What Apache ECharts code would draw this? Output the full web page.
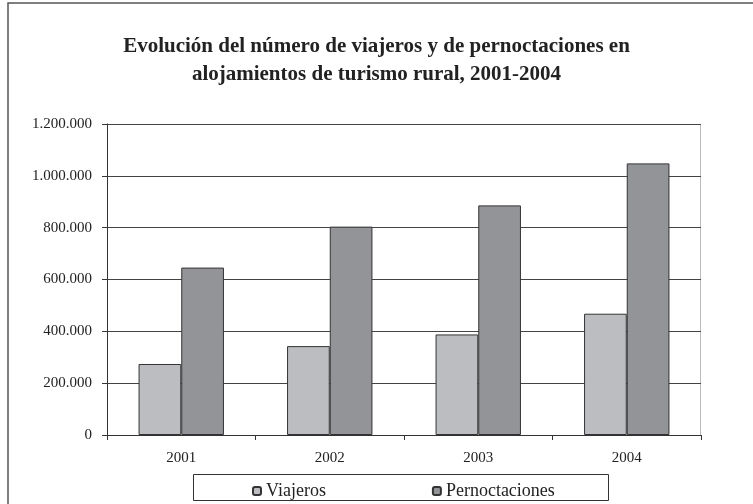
<!DOCTYPE html>
<html>
<head>
<meta charset="utf-8">
<script src="https://cdn.jsdelivr.net/npm/echarts@6/dist/echarts.min.js"></script>
<style>
  html, body { margin: 0; padding: 0; background: #fff; }
  #main { width: 753px; height: 504px; }
</style>
</head>
<body>
<div id="main"></div>
<script>
// 年份
var years = ['2001', '2002', '2003', '2004'];
// 系列名称
var seriesNames = ['Viajeros', 'Pernoctaciones'];
// 旅客数量
var viajeros = [274000, 343000, 388000, 468000];
// 过夜数量
var pernoctaciones = [646000, 804000, 886000, 1048000];

var serif = '"Liberation Serif", "DejaVu Serif", serif';

/**
 * 千位分隔(西班牙格式)
 */
function fmt(v) {
    return String(v).replace(/\B(?=(\d{3})+(?!\d))/g, '.');
}

var myChart = echarts.init(document.getElementById('main'));

var option = {
    backgroundColor: '#fff',
    animation: false,
    title: {
        text: 'Evolución del número de viajeros y de pernoctaciones en\nalojamientos de turismo rural, 2001-2004',
        left: 'center',
        top: 28,
        textStyle: {
            fontFamily: serif,
            fontWeight: 'bold',
            fontSize: 21,
            lineHeight: 28,
            color: '#222'
        }
    },
    graphic: [
        // 外框
        {
            type: 'rect',
            shape: { x: 8, y: 3, width: 760, height: 520 },
            style: { fill: 'none', stroke: '#555', lineWidth: 1.5 },
            silent: true
        },
        // 图例框
        {
            type: 'rect',
            shape: { x: 193.5, y: 474.5, width: 415, height: 26 },
            style: { fill: 'none', stroke: '#333', lineWidth: 1 },
            silent: true
        },
        // 绘图区右边框
        {
            type: 'line',
            shape: { x1: 700.5, y1: 124, x2: 700.5, y2: 435 },
            style: { stroke: '#bbb', lineWidth: 1 },
            silent: true
        }
    ],
    legend: {
        data: seriesNames,
        left: 247,
        top: 477,
        itemWidth: 8,
        itemHeight: 8,
        itemGap: 106,
        textStyle: { fontFamily: serif, fontSize: 18, color: '#222' }
    },
    grid: {
        left: 107,
        right: 52,
        top: 124,
        bottom: 69,
        containLabel: false
    },
    xAxis: {
        type: 'category',
        data: years,
        axisLine: { lineStyle: { color: '#333', width: 1 } },
        axisTick: { show: true, length: 5, lineStyle: { color: '#333' } },
        axisLabel: { fontFamily: serif, fontSize: 15, color: '#222', margin: 16 }
    },
    yAxis: {
        type: 'value',
        min: 0,
        max: 1200000,
        interval: 200000,
        axisLine: { show: true, lineStyle: { color: '#333', width: 1 } },
        axisTick: { show: true, length: 5, lineStyle: { color: '#333' } },
        splitLine: { show: true, lineStyle: { color: '#444', width: 1 } },
        axisLabel: {
            fontFamily: serif,
            fontSize: 15,
            color: '#222',
            margin: 15,
            formatter: function (v) { return fmt(v); }
        }
    },
    series: [
        {
            name: seriesNames[0],
            type: 'bar',
            data: viajeros,
            barGap: '0%',
            barCategoryGap: '42.5%',
            itemStyle: { color: '#bcbdc0', borderColor: '#333', borderWidth: 1 }
        },
        {
            name: seriesNames[1],
            type: 'bar',
            data: pernoctaciones,
            barGap: '0%',
            barCategoryGap: '42.5%',
            itemStyle: { color: '#939497', borderColor: '#333', borderWidth: 1 }
        }
    ]
};

myChart.setOption(option);
</script>
</body>
</html>
